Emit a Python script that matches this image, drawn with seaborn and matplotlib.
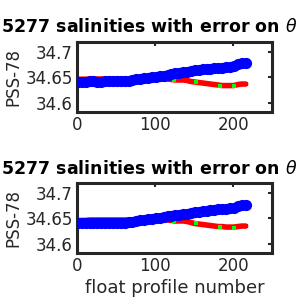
import numpy as np
import pandas as pd
import matplotlib
matplotlib.use("Agg")
import matplotlib.pyplot as plt
import seaborn as sns

# ------------------------- Data -------------------------

profiles = list(range(1, 217, 5))

top_uncal = [34.642, 34.642, 34.642, 34.6425, 34.6425, 34.642, 34.642, 34.6425, 34.6425, 34.643,
             34.643, 34.643, 34.643, 34.6435, 34.644, 34.646, 34.647, 34.648, 34.649, 34.650,
             34.651, 34.652, 34.653, 34.654, 34.657, 34.658, 34.659, 34.660, 34.661, 34.662,
             34.664, 34.665, 34.666, 34.666, 34.667, 34.668, 34.668, 34.669, 34.670, 34.671,
             34.672, 34.677, 34.678, 34.678]

top_cal = [34.6465, 34.6465, 34.6465, 34.647, 34.647, 34.647, 34.647, 34.647, 34.647, 34.647,
           34.647, 34.647, 34.647, 34.647, 34.647, 34.647, 34.647, 34.647, 34.647, 34.647,
           34.647, 34.647, 34.647, 34.647, 34.646, 34.645, 34.645, 34.645, 34.644, 34.642,
           34.641, 34.640, 34.639, 34.638, 34.637, 34.636, 34.635, 34.634, 34.634, 34.634,
           34.634, 34.636, 34.637, 34.637]

bot_uncal = [34.641, 34.641, 34.641, 34.641, 34.641, 34.641, 34.641, 34.641, 34.641, 34.6415,
             34.642, 34.642, 34.642, 34.6425, 34.643, 34.645, 34.646, 34.647, 34.648, 34.649,
             34.650, 34.651, 34.652, 34.654, 34.655, 34.656, 34.657, 34.658, 34.659, 34.660,
             34.662, 34.663, 34.664, 34.665, 34.666, 34.667, 34.668, 34.669, 34.669, 34.670,
             34.671, 34.675, 34.676, 34.676]

bot_cal = [34.646, 34.646, 34.646, 34.647, 34.647, 34.647, 34.647, 34.647, 34.647, 34.647,
           34.647, 34.647, 34.647, 34.647, 34.647, 34.647, 34.647, 34.647, 34.647, 34.647,
           34.647, 34.647, 34.647, 34.647, 34.646, 34.645, 34.645, 34.645, 34.644, 34.642,
           34.640, 34.639, 34.638, 34.637, 34.636, 34.635, 34.634, 34.634, 34.633, 34.633,
           34.633, 34.634, 34.635, 34.635]

cal_err = [0.0015] * 24 + [0.002, 0.002, 0.002, 0.0025, 0.0025, 0.0025, 0.003, 0.003, 0.003, 0.003,
                           0.003, 0.0035, 0.0035, 0.0035, 0.0035, 0.0035, 0.0035, 0.0035, 0.0035, 0.0035]

green_prof = [124, 152, 183, 201]
green_top = [34.6455, 34.6415, 34.6335, 34.6325]
green_bot = [34.6455, 34.6410, 34.6340, 34.6320]

title = "5277 salinities with error on $\\theta$"

# ------------------------- Figure -------------------------

sns.set_style("white")
plt.rcParams["font.family"] = ["DejaVu Sans"]

fig = plt.figure(figsize=(3, 3), dpi=100)

dark = "#262626"

panels = [
    (0.627, top_uncal, top_cal, green_top, 0.91, False),
    (0.157, bot_uncal, bot_cal, green_bot, 0.437, True),
]

for bottom, uncal, cal, green, title_y, last in panels:
    ax = fig.add_axes([0.257, bottom, 0.65, 0.233])

    df = pd.DataFrame({"profile": profiles, "uncal": uncal, "cal": cal, "err": cal_err})

    ax.errorbar(df["profile"], df["cal"], yerr=df["err"], color="red",
                lw=4, elinewidth=3, capsize=0, zorder=2)
    sns.scatterplot(x=green_prof, y=green, color="#00ff00", s=6, marker="s",
                    linewidth=0, ax=ax, zorder=3)
    sns.scatterplot(data=df, x="profile", y="uncal", color="blue", s=65,
                    linewidth=0, ax=ax, zorder=4)

    ax.set_xlim(0, 250)
    ax.set_ylim(34.582, 34.72)
    ax.set_xticks([0, 100, 200])
    ax.set_yticks([34.6, 34.65, 34.7])
    ax.set_yticklabels(["34.6", "34.65", "34.7"])
    ax.tick_params(direction="in", length=3, width=1.5, color=dark, labelcolor=dark,
                   labelsize=12, top=True, right=True, pad=3)
    for sp in ax.spines.values():
        sp.set_color(dark)
        sp.set_linewidth(2.2)
    ax.set_ylabel("PSS-78", fontsize=12, color=dark, labelpad=2)
    if last:
        ax.set_xlabel("float profile number", fontsize=13, color=dark, labelpad=3)
    else:
        ax.set_xlabel("")

    fig.text(0.99, title_y, title, ha="right", va="center",
             fontsize=12.5, fontweight="bold", color="black")

fig.savefig("out.png", dpi=100)
